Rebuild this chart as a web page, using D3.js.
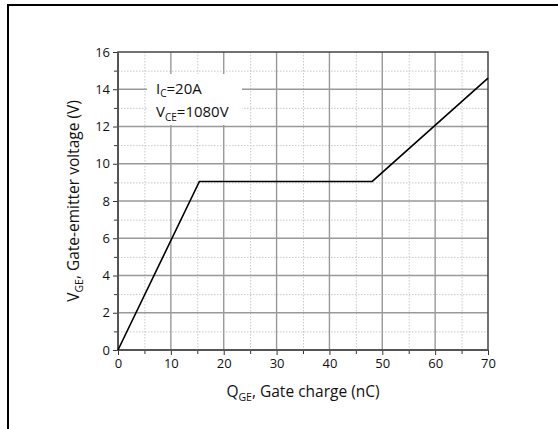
<!DOCTYPE html>
<html>
<head>
<meta charset="utf-8">
<script src="https://cdn.jsdelivr.net/npm/d3@7"></script>
<style>
  html, body { margin: 0; padding: 0; background: #fff; }
  svg { display: block; font-family: "Open Sans", "Noto Sans", sans-serif; }
</style>
</head>
<body>
<svg id="chart" width="558" height="429"></svg>
<script>
// Gate charge curve: charge (nC) vs gate-emitter voltage (V)
const gateCharge = [0, 15.4, 48.1, 70];
const gateVoltage = [0, 9.05, 9.05, 14.6];

const xMajorTicks = [0, 10, 20, 30, 40, 50, 60, 70];
const xMinorTicks = [5, 15, 25, 35, 45, 55, 65];
const yMajorTicks = [0, 2, 4, 6, 8, 10, 12, 14, 16];
const yMinorTicks = [1, 3, 5, 7, 9, 11, 13, 15];

const svg = d3.select("#chart");
const plot = { left: 118, top: 52, right: 488, bottom: 350 };

const x = d3.scaleLinear().domain([0, 70]).range([plot.left, plot.right]);
const y = d3.scaleLinear().domain([0, 16]).range([plot.bottom, plot.top]);

// outer frame (top and left edges)
svg.append("path")
  .attr("d", "M8,429 V5 H558")
  .attr("fill", "none").attr("stroke", "#000").attr("stroke-width", 2);

const grid = svg.append("g");
// minor dotted grid
grid.selectAll("line.vmin").data(xMinorTicks).join("line")
  .attr("x1", d => x(d) + 0.5).attr("x2", d => x(d) + 0.5)
  .attr("y1", plot.top).attr("y2", plot.bottom)
  .attr("stroke", "#c8c8c8").attr("stroke-dasharray", "1.5,1.5");
grid.selectAll("line.hmin").data(yMinorTicks).join("line")
  .attr("y1", d => y(d) + 0.5).attr("y2", d => y(d) + 0.5)
  .attr("x1", plot.left).attr("x2", plot.right)
  .attr("stroke", "#c8c8c8").attr("stroke-dasharray", "1.5,1.5");
// major solid grid
grid.selectAll("line.vmaj").data(xMajorTicks.slice(1, -1)).join("line")
  .attr("x1", d => x(d)).attr("x2", d => x(d))
  .attr("y1", plot.top).attr("y2", plot.bottom)
  .attr("stroke", "#999").attr("stroke-width", 1.4);
grid.selectAll("line.hmaj").data(yMajorTicks.slice(1, -1)).join("line")
  .attr("y1", d => y(d)).attr("y2", d => y(d))
  .attr("x1", plot.left).attr("x2", plot.right)
  .attr("stroke", "#999").attr("stroke-width", 1.4);

// annotation box with white background
svg.append("rect")
  .attr("x", 147).attr("y", 74).attr("width", 95).attr("height", 51)
  .attr("fill", "#fff");
const note = svg.append("g").attr("font-size", 15).attr("fill", "#111");
const t1 = note.append("text").attr("x", 156).attr("y", 93.5);
t1.append("tspan").text("I");
t1.append("tspan").attr("font-size", 10).attr("dy", 3.5).text("C");
t1.append("tspan").attr("dy", -3.5).text("=20A");
const t2 = note.append("text").attr("x", 156).attr("y", 117);
t2.append("tspan").text("V");
t2.append("tspan").attr("font-size", 10).attr("dy", 3.5).text("CE");
t2.append("tspan").attr("dy", -3.5).text("=1080V");

// axes
const xAxis = svg.append("g").attr("transform", `translate(0,${plot.bottom})`)
  .call(d3.axisBottom(x).tickValues(xMajorTicks).tickSize(5).tickPadding(4).tickFormat(d3.format("d")));
const xMinor = svg.append("g").attr("transform", `translate(0,${plot.bottom})`)
  .call(d3.axisBottom(x).tickValues(xMinorTicks).tickSize(4).tickFormat(""));
const yAxis = svg.append("g").attr("transform", `translate(${plot.left},0)`)
  .call(d3.axisLeft(y).tickValues(yMajorTicks).tickSize(5).tickPadding(3).tickFormat(d3.format("d")));
const yMinor = svg.append("g").attr("transform", `translate(${plot.left},0)`)
  .call(d3.axisLeft(y).tickValues(yMinorTicks).tickSize(4).tickFormat(""));

[xAxis, xMinor, yAxis, yMinor].forEach(g => {
  g.select(".domain").remove();
  g.selectAll(".tick line").attr("stroke", "#333").attr("stroke-width", 1);
  g.selectAll(".tick text").attr("font-family", "'Open Sans', 'Noto Sans', sans-serif")
    .attr("font-size", 13).attr("fill", "#111");
});

// plot frame
svg.append("rect")
  .attr("x", plot.left).attr("y", plot.top)
  .attr("width", plot.right - plot.left).attr("height", plot.bottom - plot.top)
  .attr("fill", "none").attr("stroke", "#444").attr("stroke-width", 1.5);
svg.append("path")
  .attr("d", `M${plot.left},${plot.top} V${plot.bottom} H${plot.right}`)
  .attr("fill", "none").attr("stroke", "#555").attr("stroke-width", 2);

// gate charge curve
const line = d3.line().x((d, i) => x(gateCharge[i])).y(d => y(d));
svg.append("path")
  .datum(gateVoltage)
  .attr("d", line)
  .attr("fill", "none").attr("stroke", "#000").attr("stroke-width", 1.6);

// axis titles
const xt = svg.append("text").attr("x", 303).attr("y", 397)
  .attr("text-anchor", "middle").attr("font-size", 15.5).attr("fill", "#111");
xt.append("tspan").text("Q");
xt.append("tspan").attr("font-size", 10.5).attr("dy", 4).text("GE");
xt.append("tspan").attr("dy", -4).text(", Gate charge (nC)");

const yt = svg.append("text")
  .attr("transform", `translate(79,${(plot.top + plot.bottom) / 2}) rotate(-90)`)
  .attr("text-anchor", "middle").attr("font-size", 15.5).attr("fill", "#111");
yt.append("tspan").text("V");
yt.append("tspan").attr("font-size", 10.5).attr("dy", 4).text("GE");
yt.append("tspan").attr("dy", -4).text(", Gate-emitter voltage (V)");
</script>
</body>
</html>
